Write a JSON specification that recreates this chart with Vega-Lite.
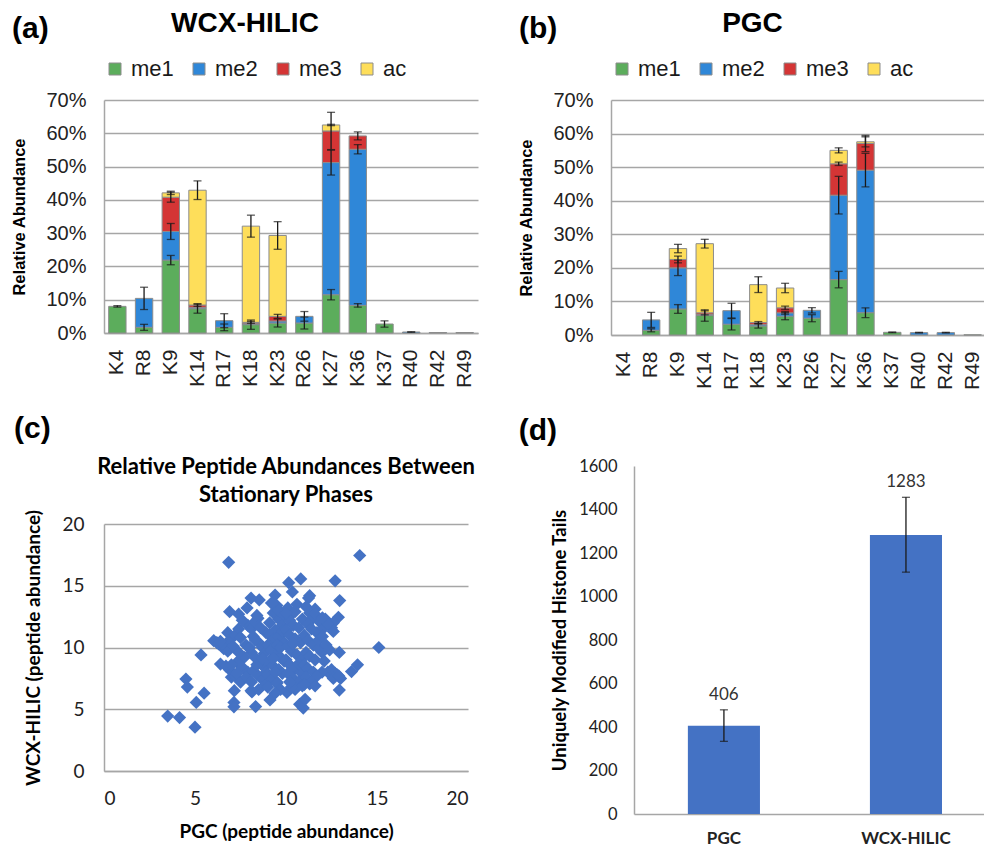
{
  "$schema": "https://vega.github.io/schema/vega-lite/v6.json",
  "background": "white",
  "padding": {"left": 11, "top": 10, "right": 0, "bottom": 0},
  "config": {
    "view": {"stroke": null},
    "axis": {"ticks": false, "domainColor": "#A6A6A6", "domainWidth": 1.5, "gridColor": "#A6A6A6", "gridWidth": 1.5, "labelColor": "#222222", "titleColor": "#000000", "labelOverlap": false},
    "axisY": {"labelOverlap": false},
    "axisQuantitative": {"labelOverlap": false}
  },
  "datasets": {
    "wcx": [
      {"site": "K4", "mod": "me1", "o": 1, "value": 8.0, "err": 0.25},
      {"site": "R8", "mod": "me1", "o": 1, "value": 1.7, "err": 0.9},
      {"site": "R8", "mod": "me2", "o": 2, "value": 8.7, "err": 3.35},
      {"site": "K9", "mod": "me1", "o": 1, "value": 21.9, "err": 1.4},
      {"site": "K9", "mod": "me2", "o": 2, "value": 8.6, "err": 2.4},
      {"site": "K9", "mod": "me3", "o": 3, "value": 10.3, "err": 1.5},
      {"site": "K9", "mod": "ac", "o": 4, "value": 1.3, "err": 0.5},
      {"site": "K14", "mod": "me1", "o": 1, "value": 7.3, "err": 1.35},
      {"site": "K14", "mod": "me2", "o": 2, "value": 0.4, "err": 0},
      {"site": "K14", "mod": "me3", "o": 3, "value": 0.7, "err": 0.4},
      {"site": "K14", "mod": "ac", "o": 4, "value": 34.5, "err": 2.8},
      {"site": "R17", "mod": "me1", "o": 1, "value": 1.7, "err": 1.0},
      {"site": "R17", "mod": "me2", "o": 2, "value": 2.0, "err": 2.1},
      {"site": "K18", "mod": "me1", "o": 1, "value": 2.5, "err": 1.4},
      {"site": "K18", "mod": "me2", "o": 2, "value": 0.3, "err": 0},
      {"site": "K18", "mod": "me3", "o": 3, "value": 0.4, "err": 0.3},
      {"site": "K18", "mod": "ac", "o": 4, "value": 28.9, "err": 3.3},
      {"site": "K23", "mod": "me1", "o": 1, "value": 3.0, "err": 1.2},
      {"site": "K23", "mod": "me2", "o": 2, "value": 0.6, "err": 0},
      {"site": "K23", "mod": "me3", "o": 3, "value": 1.4, "err": 0.6},
      {"site": "K23", "mod": "ac", "o": 4, "value": 24.3, "err": 4.15},
      {"site": "R26", "mod": "me1", "o": 1, "value": 3.0, "err": 1.8},
      {"site": "R26", "mod": "me2", "o": 2, "value": 2.0, "err": 1.45},
      {"site": "K27", "mod": "me1", "o": 1, "value": 11.5, "err": 1.55},
      {"site": "K27", "mod": "me2", "o": 2, "value": 39.7, "err": 3.75},
      {"site": "K27", "mod": "me3", "o": 3, "value": 9.5, "err": 5.6},
      {"site": "K27", "mod": "ac", "o": 4, "value": 1.8, "err": 0.2},
      {"site": "K36", "mod": "me1", "o": 1, "value": 8.3, "err": 0.55},
      {"site": "K36", "mod": "me2", "o": 2, "value": 46.9, "err": 1.4},
      {"site": "K36", "mod": "me3", "o": 3, "value": 4.0, "err": 1.2},
      {"site": "K37", "mod": "me1", "o": 1, "value": 2.7, "err": 0.95},
      {"site": "R40", "mod": "me2", "o": 2, "value": 0.3, "err": 0.05},
      {"site": "R42", "mod": "me2", "o": 2, "value": 0.15, "err": 0},
      {"site": "R49", "mod": "me2", "o": 2, "value": 0.15, "err": 0}
    ],
    "pgc": [
      {"site": "R8", "mod": "me1", "o": 1, "value": 1.4, "err": 0.45},
      {"site": "R8", "mod": "me2", "o": 2, "value": 3.1, "err": 2.25},
      {"site": "K9", "mod": "me1", "o": 1, "value": 7.75, "err": 1.3},
      {"site": "K9", "mod": "me2", "o": 2, "value": 12.25, "err": 2.3},
      {"site": "K9", "mod": "me3", "o": 3, "value": 2.5, "err": 1.0},
      {"site": "K9", "mod": "ac", "o": 4, "value": 3.25, "err": 1.25},
      {"site": "K14", "mod": "me1", "o": 1, "value": 5.8, "err": 1.7},
      {"site": "K14", "mod": "me2", "o": 2, "value": 0.3, "err": 0},
      {"site": "K14", "mod": "me3", "o": 3, "value": 0.5, "err": 0.6},
      {"site": "K14", "mod": "ac", "o": 4, "value": 20.6, "err": 1.3},
      {"site": "R17", "mod": "me1", "o": 1, "value": 3.2, "err": 1.7},
      {"site": "R17", "mod": "me2", "o": 2, "value": 4.05, "err": 2.2},
      {"site": "K18", "mod": "me1", "o": 1, "value": 2.7, "err": 0.65},
      {"site": "K18", "mod": "me2", "o": 2, "value": 0.4, "err": 0},
      {"site": "K18", "mod": "me3", "o": 3, "value": 0.6, "err": 0.3},
      {"site": "K18", "mod": "ac", "o": 4, "value": 11.3, "err": 2.35},
      {"site": "K23", "mod": "me1", "o": 1, "value": 5.6, "err": 1.05},
      {"site": "K23", "mod": "me2", "o": 2, "value": 1.0, "err": 0.4},
      {"site": "K23", "mod": "me3", "o": 3, "value": 1.5, "err": 0.5},
      {"site": "K23", "mod": "ac", "o": 4, "value": 5.9, "err": 1.4},
      {"site": "R26", "mod": "me1", "o": 1, "value": 5.0, "err": 1.05},
      {"site": "R26", "mod": "me2", "o": 2, "value": 2.35, "err": 0.8},
      {"site": "K27", "mod": "me1", "o": 1, "value": 16.5, "err": 2.45},
      {"site": "K27", "mod": "me2", "o": 2, "value": 25.15, "err": 5.6},
      {"site": "K27", "mod": "me3", "o": 3, "value": 9.35, "err": 0.5},
      {"site": "K27", "mod": "ac", "o": 4, "value": 4.0, "err": 0.75},
      {"site": "K36", "mod": "me1", "o": 1, "value": 6.65, "err": 1.45},
      {"site": "K36", "mod": "me2", "o": 2, "value": 42.45, "err": 5.0},
      {"site": "K36", "mod": "me3", "o": 3, "value": 7.95, "err": 2.4},
      {"site": "K36", "mod": "ac", "o": 4, "value": 0.5, "err": 1.5},
      {"site": "K37", "mod": "me1", "o": 1, "value": 0.8, "err": 0.1},
      {"site": "R40", "mod": "me2", "o": 2, "value": 0.7, "err": 0.1},
      {"site": "R42", "mod": "me2", "o": 2, "value": 0.7, "err": 0.1},
      {"site": "R49", "mod": "me1", "o": 1, "value": 0.05, "err": 0}
    ],
    "scatter": [
      {"pgc": 6.85, "wcx": 16.9}, {"pgc": 14.05, "wcx": 17.45}, {"pgc": 15.1, "wcx": 10.0}, {"pgc": 3.5, "wcx": 4.45},
      {"pgc": 4.15, "wcx": 4.33}, {"pgc": 5.0, "wcx": 3.55}, {"pgc": 5.07, "wcx": 5.55}, {"pgc": 5.5, "wcx": 6.3},
      {"pgc": 5.33, "wcx": 9.4}, {"pgc": 4.5, "wcx": 7.45}, {"pgc": 4.58, "wcx": 6.8}, {"pgc": 7.16, "wcx": 6.5},
      {"pgc": 7.14, "wcx": 5.55}, {"pgc": 7.14, "wcx": 5.2}, {"pgc": 8.33, "wcx": 5.22}, {"pgc": 9.12, "wcx": 5.75},
      {"pgc": 10.95, "wcx": 5.1}, {"pgc": 10.75, "wcx": 5.4}, {"pgc": 11.05, "wcx": 5.8}, {"pgc": 12.95, "wcx": 13.8},
      {"pgc": 12.7, "wcx": 15.4}, {"pgc": 12.88, "wcx": 12.45}, {"pgc": 12.93, "wcx": 9.6}, {"pgc": 12.93, "wcx": 6.55},
      {"pgc": 13.6, "wcx": 8.05}, {"pgc": 13.93, "wcx": 8.6}, {"pgc": 12.5, "wcx": 11.6}, {"pgc": 12.16, "wcx": 12.3},
      {"pgc": 10.81, "wcx": 15.55}, {"pgc": 10.15, "wcx": 15.25}, {"pgc": 10.35, "wcx": 14.5}, {"pgc": 9.4, "wcx": 14.25},
      {"pgc": 8.53, "wcx": 13.85}, {"pgc": 8.08, "wcx": 14.0}, {"pgc": 6.9, "wcx": 12.9}, {"pgc": 7.4, "wcx": 12.7},
      {"pgc": 7.86, "wcx": 13.2}, {"pgc": 8.46, "wcx": 12.36}, {"pgc": 6.03, "wcx": 10.55}, {"pgc": 6.2, "wcx": 10.4},
      {"pgc": 6.58, "wcx": 9.9}, {"pgc": 6.4, "wcx": 8.66}, {"pgc": 11.24, "wcx": 14.0}, {"pgc": 11.3, "wcx": 14.2},
      {"pgc": 11.6, "wcx": 13.1}, {"pgc": 11.98, "wcx": 9.6}, {"pgc": 12.3, "wcx": 8.0}, {"pgc": 11.98, "wcx": 8.0},
      {"pgc": 11.3, "wcx": 7.05}, {"pgc": 10.5, "wcx": 6.6}, {"pgc": 10.05, "wcx": 6.36}, {"pgc": 9.5, "wcx": 7.2},
      {"pgc": 8.13, "wcx": 6.4}, {"pgc": 8.08, "wcx": 6.5}, {"pgc": 7.0, "wcx": 7.6}, {"pgc": 12.8, "wcx": 7.8},
      {"pgc": 13.0, "wcx": 7.5}, {"pgc": 12.6, "wcx": 12.0}, {"pgc": 6.9, "wcx": 8.2}, {"pgc": 6.3, "wcx": 10.3},
      {"pgc": 6.6, "wcx": 10.1}, {"pgc": 6.8, "wcx": 9.7}, {"pgc": 6.9, "wcx": 10.6}, {"pgc": 6.7, "wcx": 8.5},
      {"pgc": 6.4, "wcx": 10.5}, {"pgc": 6.8, "wcx": 11.2},
      {"pgc": 7.2, "wcx": 11.0}, {"pgc": 7.4, "wcx": 11.5}, {"pgc": 7.5, "wcx": 10.8}, {"pgc": 7.7, "wcx": 9.2},
      {"pgc": 7.3, "wcx": 8.8}, {"pgc": 7.6, "wcx": 8.4}, {"pgc": 7.9, "wcx": 8.0}, {"pgc": 7.2, "wcx": 7.7},
      {"pgc": 7.5, "wcx": 7.2}, {"pgc": 7.8, "wcx": 7.6}, {"pgc": 7.9, "wcx": 11.8}, {"pgc": 7.6, "wcx": 12.2},
      {"pgc": 7.1, "wcx": 10.1}, {"pgc": 7.4, "wcx": 9.6}, {"pgc": 7.0, "wcx": 8.6}, {"pgc": 7.8, "wcx": 10.2},
      {"pgc": 7.3, "wcx": 7.9},
      {"pgc": 8.1, "wcx": 11.5}, {"pgc": 8.3, "wcx": 12.1}, {"pgc": 8.4, "wcx": 12.6}, {"pgc": 8.2, "wcx": 10.9},
      {"pgc": 8.5, "wcx": 10.4}, {"pgc": 8.7, "wcx": 10.0}, {"pgc": 8.1, "wcx": 9.6}, {"pgc": 8.3, "wcx": 9.2},
      {"pgc": 8.6, "wcx": 8.8}, {"pgc": 8.8, "wcx": 8.4}, {"pgc": 8.2, "wcx": 8.1}, {"pgc": 8.4, "wcx": 7.8},
      {"pgc": 8.7, "wcx": 7.4}, {"pgc": 8.9, "wcx": 7.0}, {"pgc": 8.1, "wcx": 7.2}, {"pgc": 8.5, "wcx": 6.6},
      {"pgc": 8.8, "wcx": 9.5}, {"pgc": 8.9, "wcx": 11.2}, {"pgc": 8.6, "wcx": 11.6}, {"pgc": 8.3, "wcx": 10.6},
      {"pgc": 8.0, "wcx": 10.0}, {"pgc": 8.9, "wcx": 8.0}, {"pgc": 8.4, "wcx": 8.6}, {"pgc": 8.7, "wcx": 9.1},
      {"pgc": 9.1, "wcx": 12.0}, {"pgc": 9.3, "wcx": 12.8}, {"pgc": 9.5, "wcx": 13.4}, {"pgc": 9.2, "wcx": 13.6},
      {"pgc": 9.6, "wcx": 12.3}, {"pgc": 9.8, "wcx": 11.8}, {"pgc": 9.4, "wcx": 11.4}, {"pgc": 9.1, "wcx": 11.0},
      {"pgc": 9.3, "wcx": 10.6}, {"pgc": 9.6, "wcx": 10.9}, {"pgc": 9.9, "wcx": 10.4}, {"pgc": 9.0, "wcx": 10.2},
      {"pgc": 9.2, "wcx": 9.8}, {"pgc": 9.5, "wcx": 9.5}, {"pgc": 9.7, "wcx": 9.2}, {"pgc": 9.9, "wcx": 8.9},
      {"pgc": 9.1, "wcx": 8.9}, {"pgc": 9.3, "wcx": 8.5}, {"pgc": 9.6, "wcx": 8.2}, {"pgc": 9.8, "wcx": 7.9},
      {"pgc": 9.0, "wcx": 7.8}, {"pgc": 9.2, "wcx": 7.4}, {"pgc": 9.5, "wcx": 7.1}, {"pgc": 9.7, "wcx": 6.6},
      {"pgc": 9.4, "wcx": 6.3}, {"pgc": 9.0, "wcx": 6.8}, {"pgc": 9.8, "wcx": 11.3}, {"pgc": 9.6, "wcx": 13.0},
      {"pgc": 9.9, "wcx": 12.6}, {"pgc": 9.3, "wcx": 9.1}, {"pgc": 9.5, "wcx": 10.2}, {"pgc": 9.7, "wcx": 10.0},
      {"pgc": 9.4, "wcx": 8.0},
      {"pgc": 10.1, "wcx": 13.2}, {"pgc": 10.3, "wcx": 12.7}, {"pgc": 10.5, "wcx": 12.9}, {"pgc": 10.2, "wcx": 12.2},
      {"pgc": 10.4, "wcx": 11.8}, {"pgc": 10.7, "wcx": 11.6}, {"pgc": 10.0, "wcx": 11.4}, {"pgc": 10.2, "wcx": 11.0},
      {"pgc": 10.5, "wcx": 10.7}, {"pgc": 10.8, "wcx": 10.4}, {"pgc": 10.1, "wcx": 10.1}, {"pgc": 10.3, "wcx": 9.7},
      {"pgc": 10.6, "wcx": 9.4}, {"pgc": 10.9, "wcx": 9.1}, {"pgc": 10.0, "wcx": 9.0}, {"pgc": 10.2, "wcx": 8.6},
      {"pgc": 10.5, "wcx": 8.3}, {"pgc": 10.8, "wcx": 8.0}, {"pgc": 10.1, "wcx": 7.9}, {"pgc": 10.4, "wcx": 7.5},
      {"pgc": 10.7, "wcx": 7.2}, {"pgc": 10.9, "wcx": 6.9}, {"pgc": 10.3, "wcx": 6.8}, {"pgc": 10.6, "wcx": 13.5},
      {"pgc": 10.9, "wcx": 12.3}, {"pgc": 10.0, "wcx": 12.8}, {"pgc": 10.4, "wcx": 10.3}, {"pgc": 10.7, "wcx": 8.7},
      {"pgc": 10.2, "wcx": 7.2},
      {"pgc": 11.1, "wcx": 13.3}, {"pgc": 11.3, "wcx": 12.8}, {"pgc": 11.5, "wcx": 12.4}, {"pgc": 11.2, "wcx": 11.9},
      {"pgc": 11.4, "wcx": 11.5}, {"pgc": 11.7, "wcx": 11.2}, {"pgc": 11.0, "wcx": 11.0}, {"pgc": 11.2, "wcx": 10.6},
      {"pgc": 11.5, "wcx": 10.2}, {"pgc": 11.8, "wcx": 9.9}, {"pgc": 11.1, "wcx": 9.6}, {"pgc": 11.3, "wcx": 9.3},
      {"pgc": 11.6, "wcx": 9.0}, {"pgc": 11.0, "wcx": 8.6}, {"pgc": 11.2, "wcx": 8.3}, {"pgc": 11.5, "wcx": 8.0},
      {"pgc": 11.7, "wcx": 7.7}, {"pgc": 11.1, "wcx": 7.6}, {"pgc": 11.4, "wcx": 7.2}, {"pgc": 11.6, "wcx": 6.9},
      {"pgc": 11.0, "wcx": 7.0}, {"pgc": 11.9, "wcx": 12.0}, {"pgc": 11.6, "wcx": 12.7}, {"pgc": 11.8, "wcx": 10.6},
      {"pgc": 12.1, "wcx": 11.6}, {"pgc": 12.3, "wcx": 11.9}, {"pgc": 12.0, "wcx": 10.9}, {"pgc": 12.2, "wcx": 10.2},
      {"pgc": 12.4, "wcx": 9.8}, {"pgc": 12.1, "wcx": 8.9}, {"pgc": 12.5, "wcx": 8.2}, {"pgc": 12.7, "wcx": 7.9},
      {"pgc": 12.6, "wcx": 7.5}, {"pgc": 12.9, "wcx": 7.7}, {"pgc": 12.0, "wcx": 12.4}, {"pgc": 12.6, "wcx": 11.3}
    ],
    "counts": [
      {"method": "PGC", "n": 406, "lo": 334, "hi": 479},
      {"method": "WCX-HILIC", "n": 1283, "lo": 1112, "hi": 1456}
    ]
  },
  "resolve": {"scale": {"color": "independent"}, "legend": {"color": "independent"}},
  "hconcat": [
    {
      "resolve": {"scale": {"color": "independent"}, "legend": {"color": "independent"}},
      "spacing": 26,
      "vconcat": [
        {
          "title": {"text": "(a)", "anchor": "start", "frame": "bounds", "font": "Liberation Sans", "fontSize": 30, "fontWeight": "bold", "color": "#000000", "dy": 38},
          "resolve": {"scale": {"color": "independent"}, "legend": {"color": "independent"}},
          "vconcat": [
            {
              "width": 374, "height": 233,
              "title": {"text": "WCX-HILIC", "anchor": "middle", "frame": "bounds", "font": "Liberation Sans", "fontSize": 28, "fontWeight": "bold", "color": "#000000", "offset": 20},
              "data": {"name": "wcx"},
              "transform": [{"stack": "value", "groupby": ["site"], "sort": [{"field": "o", "order": "ascending"}], "as": ["v0", "v1"]}],
              "layer": [
                {
                  "mark": {"type": "bar", "stroke": "#8C8C8C", "strokeWidth": 1},
                  "encoding": {
                    "x": {"field": "site", "type": "nominal", "title": null,
                      "scale": {"domain": ["K4","R8","K9","K14","R17","K18","K23","R26","K27","K36","K37","R40","R42","R49"], "paddingInner": 0.35, "paddingOuter": 0.175},
                      "axis": {"labelAngle": -90, "labelFont": "Liberation Sans", "labelFontSize": 21, "labelPadding": 16}},
                    "y": {"field": "v0", "type": "quantitative", "title": "Relative Abundance",
                      "scale": {"domain": [0, 70]},
                      "axis": {"values": [0,10,20,30,40,50,60,70], "tickCount": 8, "labelOverlap": false, "labelExpr": "datum.value + '%'", "labelFont": "Liberation Sans", "labelFontSize": 20, "labelPadding": 18, "grid": true, "titleFont": "Liberation Sans", "titleFontSize": 16.5, "titleFontWeight": "bold", "titlePadding": 18}},
                    "y2": {"field": "v1"},
                    "color": {"field": "mod", "type": "nominal",
                      "scale": {"domain": ["me1","me2","me3","ac"], "range": ["#5CAD5C","#2F87D8","#D43535","#FEDE5A"]},
                      "legend": {"orient": "top", "direction": "horizontal", "title": null, "symbolType": "square", "symbolSize": 144, "symbolStrokeColor": "#8C8C8C", "symbolStrokeWidth": 1, "labelFont": "Liberation Sans", "labelFontSize": 22, "labelColor": "#1A1A1A", "labelOffset": 5, "columnPadding": 14, "offset": 20}}
                  }
                },
                {
                  "transform": [{"filter": "datum.err > 0"}],
                  "mark": {"type": "errorbar", "ticks": {"size": 8, "thickness": 1.3}, "rule": {"strokeWidth": 1.3}, "color": "#1A1A1A"},
                  "encoding": {
                    "x": {"field": "site", "type": "nominal"},
                    "y": {"field": "v1", "type": "quantitative", "title": "Relative Abundance",
                      "axis": {"values": [0,10,20,30,40,50,60,70], "tickCount": 8, "labelOverlap": false, "labelExpr": "datum.value + '%'", "labelFont": "Liberation Sans", "labelFontSize": 20, "labelPadding": 18, "grid": true, "titleFont": "Liberation Sans", "titleFontSize": 16.5, "titleFontWeight": "bold", "titlePadding": 18}},
                    "yError": {"field": "err"}
                  }
                }
              ]
            }
          ]
        },
        {
          "title": {"text": "(c)", "anchor": "start", "frame": "bounds", "font": "Liberation Sans", "fontSize": 30, "fontWeight": "bold", "color": "#000000", "offset": 12, "dx": -11},
          "vconcat": [
            {
              "width": 364, "height": 247,
              "title": {"text": ["Relative Peptide Abundances Between", "Stationary Phases"], "anchor": "middle", "frame": "group", "font": "Lato", "fontSize": 22, "fontWeight": "bold", "lineHeight": 28, "color": "#000000", "offset": 2},
              "data": {"name": "scatter"},
              "mark": {"type": "point", "shape": "diamond", "filled": true, "size": 175, "color": "#4472C4", "opacity": 1},
              "encoding": {
                "x": {"field": "pgc", "type": "quantitative", "title": "PGC (peptide abundance)", "scale": {"domain": [0, 20]},
                  "axis": {"values": [0,5,10,15,20], "grid": false, "labelFont": "Lato", "labelFontSize": 19, "labelPadding": 18, "titleFont": "Lato", "titleFontSize": 19, "titleFontWeight": "bold", "titlePadding": 14}},
                "y": {"field": "wcx", "type": "quantitative", "title": "WCX-HILIC (peptide abundance)", "scale": {"domain": [0, 20]},
                  "axis": {"values": [0,5,10,15,20], "grid": true, "labelFont": "Lato", "labelFontSize": 19, "labelPadding": 20, "titleFont": "Lato", "titleFontSize": 19, "titleFontWeight": "bold", "titlePadding": 18}}
              }
            }
          ]
        }
      ]
    },
    {
      "resolve": {"scale": {"color": "independent"}, "legend": {"color": "independent"}},
      "spacing": 26,
      "vconcat": [
        {
          "title": {"text": "(b)", "anchor": "start", "frame": "bounds", "font": "Liberation Sans", "fontSize": 30, "fontWeight": "bold", "color": "#000000", "dy": 38},
          "resolve": {"scale": {"color": "independent"}, "legend": {"color": "independent"}},
          "vconcat": [
            {
              "width": 375, "height": 235,
              "title": {"text": "PGC", "anchor": "middle", "frame": "bounds", "font": "Liberation Sans", "fontSize": 28, "fontWeight": "bold", "color": "#000000", "offset": 20},
              "data": {"name": "pgc"},
              "transform": [{"stack": "value", "groupby": ["site"], "sort": [{"field": "o", "order": "ascending"}], "as": ["v0", "v1"]}],
              "layer": [
                {
                  "mark": {"type": "bar", "stroke": "#8C8C8C", "strokeWidth": 1},
                  "encoding": {
                    "x": {"field": "site", "type": "nominal", "title": null,
                      "scale": {"domain": ["K4","R8","K9","K14","R17","K18","K23","R26","K27","K36","K37","R40","R42","R49"], "paddingInner": 0.35, "paddingOuter": 0.175},
                      "axis": {"labelAngle": -90, "labelFont": "Liberation Sans", "labelFontSize": 21, "labelPadding": 16}},
                    "y": {"field": "v0", "type": "quantitative", "title": "Relative Abundance",
                      "scale": {"domain": [0, 70]},
                      "axis": {"values": [0,10,20,30,40,50,60,70], "tickCount": 8, "labelOverlap": false, "labelExpr": "datum.value + '%'", "labelFont": "Liberation Sans", "labelFontSize": 20, "labelPadding": 18, "grid": true, "titleFont": "Liberation Sans", "titleFontSize": 16.5, "titleFontWeight": "bold", "titlePadding": 18}},
                    "y2": {"field": "v1"},
                    "color": {"field": "mod", "type": "nominal",
                      "scale": {"domain": ["me1","me2","me3","ac"], "range": ["#5CAD5C","#2F87D8","#D43535","#FEDE5A"]},
                      "legend": {"orient": "top", "direction": "horizontal", "title": null, "symbolType": "square", "symbolSize": 144, "symbolStrokeColor": "#8C8C8C", "symbolStrokeWidth": 1, "labelFont": "Liberation Sans", "labelFontSize": 22, "labelColor": "#1A1A1A", "labelOffset": 5, "columnPadding": 14, "offset": 20}}
                  }
                },
                {
                  "transform": [{"filter": "datum.err > 0"}],
                  "mark": {"type": "errorbar", "ticks": {"size": 8, "thickness": 1.3}, "rule": {"strokeWidth": 1.3}, "color": "#1A1A1A"},
                  "encoding": {
                    "x": {"field": "site", "type": "nominal"},
                    "y": {"field": "v1", "type": "quantitative", "title": "Relative Abundance",
                      "axis": {"values": [0,10,20,30,40,50,60,70], "tickCount": 8, "labelOverlap": false, "labelExpr": "datum.value + '%'", "labelFont": "Liberation Sans", "labelFontSize": 20, "labelPadding": 18, "grid": true, "titleFont": "Liberation Sans", "titleFontSize": 16.5, "titleFontWeight": "bold", "titlePadding": 18}},
                    "yError": {"field": "err"}
                  }
                }
              ]
            }
          ]
        },
        {
          "title": {"text": "(d)", "anchor": "start", "frame": "bounds", "font": "Liberation Sans", "fontSize": 30, "fontWeight": "bold", "color": "#000000", "offset": 12, "dx": -32},
          "vconcat": [
            {
              "width": 375, "height": 348,
              "data": {"name": "counts"},
              "layer": [
                {
                  "mark": {"type": "bar", "color": "#4472C4"},
                  "encoding": {
                    "x": {"field": "method", "type": "nominal", "title": null, "scale": {"paddingInner": 0.604, "paddingOuter": 0.332, "align": 0.636},
                      "axis": {"labelAngle": 0, "labelFont": "Lato", "labelFontSize": 17, "labelFontWeight": "bold", "labelPadding": 16, "domainDash": [0, 23, 400]}},
                    "y": {"field": "n", "type": "quantitative", "title": "Uniquely Modified Histone Tails", "scale": {"domain": [0, 1600]},
                      "axis": {"values": [0,200,400,600,800,1000,1200,1400,1600], "format": "d", "grid": false, "offset": -23, "labelFont": "Lato", "labelFontSize": 16.5, "labelPadding": 17, "titleFont": "Lato", "titleFontSize": 18.5, "titleFontWeight": "bold", "titlePadding": 9}}
                  }
                },
                {
                  "mark": {"type": "errorbar", "ticks": {"size": 8, "thickness": 1.3}, "rule": {"strokeWidth": 1.3}, "color": "#1A1A1A"},
                  "encoding": {
                    "x": {"field": "method", "type": "nominal"},
                    "y": {"field": "lo", "type": "quantitative", "title": "Uniquely Modified Histone Tails"},
                    "y2": {"field": "hi"}
                  }
                },
                {
                  "mark": {"type": "text", "baseline": "alphabetic", "dy": -10, "font": "Lato", "fontSize": 17, "color": "#333333"},
                  "encoding": {
                    "x": {"field": "method", "type": "nominal"},
                    "y": {"field": "hi", "type": "quantitative", "title": "Uniquely Modified Histone Tails"},
                    "text": {"field": "n", "type": "quantitative"}
                  }
                }
              ]
            }
          ]
        }
      ]
    }
  ],
  "spacing": 40
}
